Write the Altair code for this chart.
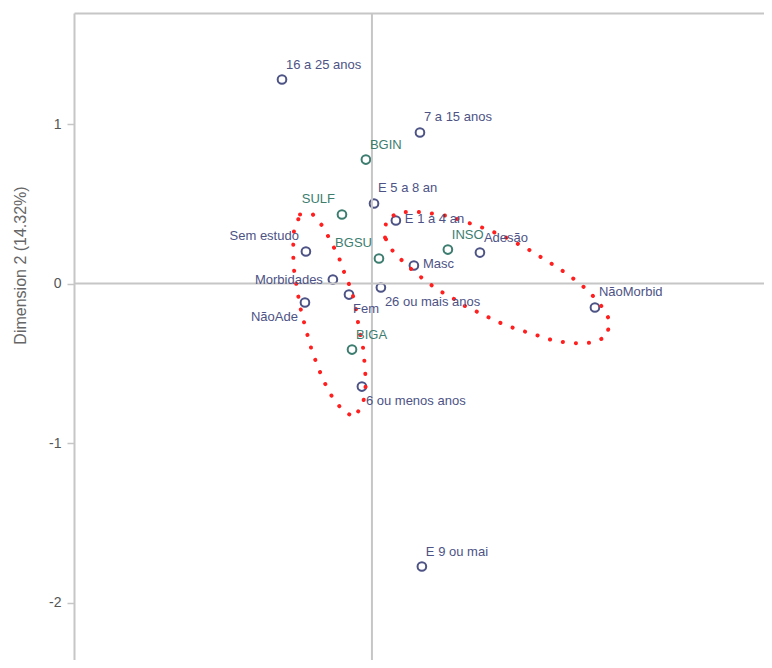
import altair as alt
import pandas as pd

# ---- data (dimension units) ----
labels = ["16 a 25 anos", "7 a 15 anos", "BGIN", "E 5 a 8 an", "SULF", "E 1 a 4 an",
          "Sem estudo", "BGSU", "INSO", "Adesão", "Masc", "Morbidades",
          "26 ou mais anos", "Fem", "NãoAde", "NãoMorbid", "BIGA",
          "6 ou menos anos", "E 9 ou mai"]
dim1 = [-0.564, 0.301, -0.038, 0.013, -0.188, 0.150,
        -0.414, 0.044, 0.476, 0.677, 0.263, -0.245,
        0.056, -0.144, -0.420, 1.398, -0.125,
        -0.063, 0.313]
dim2 = [1.279, 0.947, 0.777, 0.502, 0.433, 0.395,
        0.201, 0.157, 0.213, 0.194, 0.113, 0.025,
        -0.025, -0.069, -0.119, -0.150, -0.414,
        -0.646, -1.774]
group = ["Características", "Características", "Medicamentos", "Características",
         "Medicamentos", "Características", "Características", "Medicamentos",
         "Medicamentos", "Características", "Características", "Características",
         "Características", "Características", "Características", "Características",
         "Medicamentos", "Características", "Características"]
placement = ["ne", "ne", "ne", "ne", "nw", "e",
             "nw", "nw", "ne", "ne", "e", "w",
             "se", "se", "sw", "ne", "ne",
             "se", "ne"]

left_x = [-0.451, -0.370, -0.307, -0.257, -0.207, -0.169, -0.125, -0.100, -0.082,
          -0.056, -0.044, -0.038, -0.056, -0.113, -0.188, -0.251, -0.301, -0.345,
          -0.382, -0.414, -0.451, -0.470, -0.489, -0.495, -0.489]
left_y = [0.433, 0.433, 0.357, 0.263, 0.163, 0.056, -0.050, -0.163, -0.276,
          -0.401, -0.520, -0.633, -0.759, -0.840, -0.790, -0.708, -0.614, -0.508,
          -0.401, -0.288, -0.144, -0.031, 0.088, 0.207, 0.326]
right_x = [0.082, 0.088, 0.163, 0.251, 0.332, 0.414, 0.495, 0.577, 0.658, 0.740,
           0.828, 0.922, 1.003, 1.072, 1.154, 1.229, 1.304, 1.373, 1.436, 1.492,
           1.473, 1.386, 1.304, 1.223, 1.135, 1.060, 0.978, 0.897, 0.815, 0.734,
           0.658, 0.577, 0.502, 0.420, 0.351, 0.270, 0.201, 0.132]
right_y = [0.288, 0.395, 0.445, 0.451, 0.445, 0.433, 0.420, 0.389, 0.364, 0.332,
           0.295, 0.245, 0.201, 0.157, 0.107, 0.056, 0.000, -0.063, -0.138, -0.232,
           -0.332, -0.370, -0.376, -0.370, -0.357, -0.332, -0.307, -0.282, -0.251, -0.213,
           -0.176, -0.138, -0.088, -0.044, 0.006, 0.069, 0.132, 0.201]

y_ticks = [1, 0, -1, -2]

# ---- tables ----
pts = pd.DataFrame({"label": labels, "d1": dim1, "d2": dim2,
                    "grupo": group, "pos": placement})
contour = pd.concat([
    pd.DataFrame({"d1": left_x, "d2": left_y, "shape": "A", "i": range(len(left_x))}),
    pd.DataFrame({"d1": right_x, "d2": right_y, "shape": "B", "i": range(len(right_x))}),
])

NAVY = "#4d5385"
TEAL = "#3d7d70"
GRAY = "#c6c6c6"
FONT = "Liberation Sans"

xs = alt.Scale(domain=[-1.868, 2.458], nice=False, zero=False)
ys = alt.Scale(domain=[-2.360, 1.696], nice=False, zero=False)
cs = alt.Scale(domain=["Características", "Medicamentos"], range=[NAVY, TEAL])

x_enc = alt.X("d1:Q", scale=xs,
              axis=alt.Axis(orient="top", labels=False, ticks=False, grid=False,
                            domainColor=GRAY, domainWidth=2, title=""))
y_enc = alt.Y("d2:Q", scale=ys,
              axis=alt.Axis(values=y_ticks, grid=False, domainColor=GRAY, domainWidth=2,
                            tickColor=GRAY, tickWidth=1.5, tickSize=7,
                            labelFontSize=14, labelColor="#555555", labelFont=FONT,
                            labelPadding=6, labelExpr="datum.value + ''",
                            title="Dimension 2 (14.32%)", titleFontSize=16,
                            titleColor="#666666", titleFontWeight="normal",
                            titleFont=FONT, titleX=-54, titleY=252,
                            titleBaseline="middle", titleAngle=270))

zero_df = pd.DataFrame({"z": [0]})
vrule = alt.Chart(zero_df).mark_rule(color=GRAY, strokeWidth=2).encode(
    x=alt.X("z:Q", scale=xs))
hrule = alt.Chart(zero_df).mark_rule(color=GRAY, strokeWidth=2).encode(
    y=alt.Y("z:Q", scale=ys))

lines = alt.Chart(contour).mark_line(
    color="#ff1f1f", strokeWidth=4, strokeCap="round",
    strokeDash=[0.1, 13], interpolate="linear-closed"
).encode(x=alt.X("d1:Q", scale=xs), y=alt.Y("d2:Q", scale=ys),
         detail="shape:N", order="i:Q")

points = alt.Chart(pts).mark_point(shape="circle", filled=False, size=75,
                                   strokeWidth=2, opacity=1).encode(
    x=x_enc, y=y_enc, color=alt.Color("grupo:N", scale=cs, legend=None))

place_style = {
    "ne": dict(align="left", dx=4, dy=-15),
    "e": dict(align="left", dx=9, dy=-2),
    "w": dict(align="right", dx=-10, dy=0),
    "nw": dict(align="right", dx=-7, dy=-15),
    "sw": dict(align="right", dx=-7, dy=14),
    "se": dict(align="left", dx=4, dy=14),
}
texts = []
for key, st in place_style.items():
    texts.append(
        alt.Chart(pts).transform_filter(alt.datum.pos == key).mark_text(
            baseline="middle", font=FONT, fontSize=13, **st
        ).encode(x=alt.X("d1:Q", scale=xs), y=alt.Y("d2:Q", scale=ys),
                 text="label:N",
                 color=alt.Color("grupo:N", scale=cs, legend=None))
    )

chart = alt.layer(points, vrule, hrule, lines, *texts).properties(
    width=690, height=647,
    autosize=alt.AutoSizeParams(type="none"),
    padding={"left": 66, "top": 5, "right": 0, "bottom": 0},
    background="white",
).configure_view(stroke="transparent")

chart.save("out.html", embed_options={"renderer": "svg", "actions": False})
